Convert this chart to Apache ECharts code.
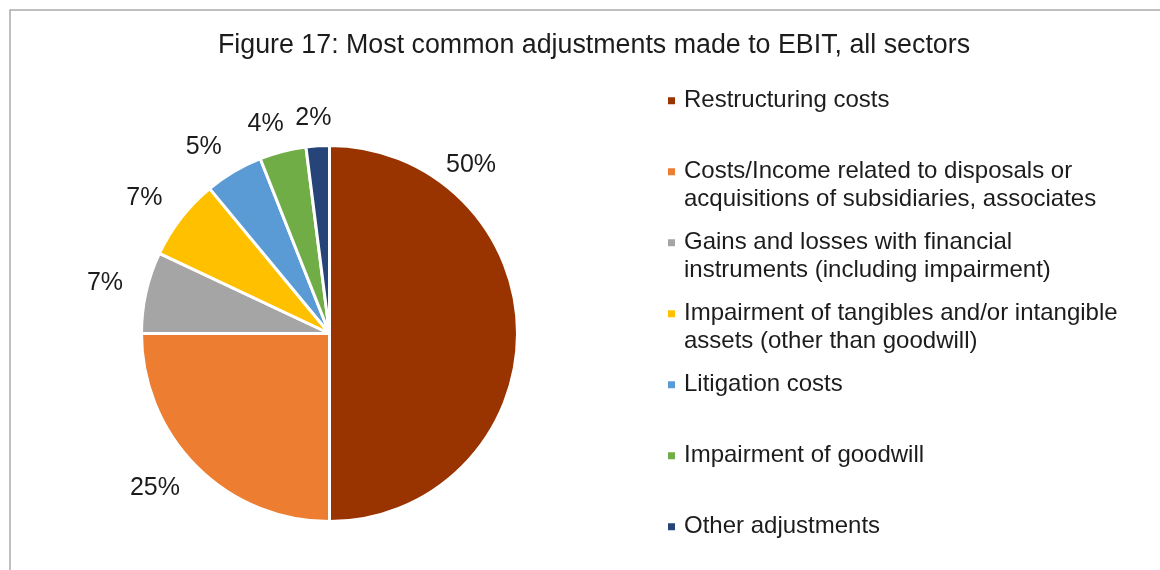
<!DOCTYPE html>
<html>
<head>
<meta charset="utf-8">
<script src="https://cdn.jsdelivr.net/npm/echarts@6/dist/echarts.min.js"></script>
<style>
  html, body { margin: 0; padding: 0; background: #ffffff; }
  #chart { width: 1160px; height: 570px; }
</style>
</head>
<body>
<div id="chart"></div>
<script>
// ---- data ----
const titleText = 'Figure 17: Most common adjustments made to EBIT, all sectors';
const categories = [
  'Restructuring costs',
  'Costs/Income related to disposals or\nacquisitions of subsidiaries, associates',
  'Gains and losses with financial\ninstruments (including impairment)',
  'Impairment of tangibles and/or intangible\nassets (other than goodwill)',
  'Litigation costs',
  'Impairment of goodwill',
  'Other adjustments'
];
const shares = [50, 25, 7, 7, 5, 4, 2];
const colors = ['#993300', '#ED7D31', '#A5A5A5', '#FFC000', '#5B9BD5', '#70AD47', '#264478'];

// ---- layout / style ----
const FONT = '"Liberation Sans", Arial, Helvetica, sans-serif';
const TEXT = '#1c1c1c';
const CX = 329.5, CY = 333.5, R = 188, VIS_R = 186.5;
const GAP_X = 25, GAP_Y = 20, DIGIT_HALF = 9;
const LEGEND_LINE = 27.5;
const total = shares.reduce((a, b) => a + b, 0);
const midFrac = [];
{ let acc = 0; shares.forEach(v => { midFrac.push((acc + v / 2) / total); acc += v; }); }
const labelShift = { 0: [-95, -168.5] };

const chart = echarts.init(document.getElementById('chart'), null, { renderer: 'canvas' });

const legends = categories.map((name, i) => {
  const extra = name.split('\n').length - 1;
  return {
    data: [name],
    orient: 'vertical',
    left: 668,
    top: 87 + 71 * i - extra * LEGEND_LINE,
    padding: 0,
    itemWidth: 7,
    itemHeight: 7,
    icon: 'rect',
    selectedMode: false,
    itemStyle: { borderWidth: 0 },
    textStyle: {
      fontFamily: FONT,
      fontSize: 24,
      color: TEXT,
      lineHeight: LEGEND_LINE,
      padding: [extra * LEGEND_LINE, 0, 0, 4],
      rich: { x: {} }
    }
  };
});

const clamp = v => Math.max(-1, Math.min(1, v));

const option = {
  backgroundColor: '#ffffff',
  animation: false,
  color: colors,
  title: {
    text: titleText,
    left: 594,
    top: 32,
    padding: 0,
    textAlign: 'center',
    textStyle: { fontFamily: FONT, fontSize: 26.8, fontWeight: 'normal', color: TEXT }
  },
  legend: legends,
  graphic: [{
    type: 'rect',
    silent: true,
    z: -10,
    shape: { x: 10, y: 10, width: 1400, height: 800 },
    style: { fill: 'none', stroke: '#ababab', lineWidth: 1.5 }
  }],
  series: [{
    type: 'pie',
    center: [CX, CY],
    radius: R,
    startAngle: 90,
    clockwise: true,
    avoidLabelOverlap: false,
    itemStyle: { borderColor: '#ffffff', borderWidth: 3 },
    emphasis: { disabled: true },
    label: {
      show: true,
      position: 'outside',
      formatter: '{c}%',
      fontFamily: FONT,
      fontSize: 25,
      color: TEXT
    },
    labelLine: { show: false },
    labelLayout: function (params) {
      const i = params.dataIndex;
      const th = midFrac[i] * 2 * Math.PI;
      const ux = Math.sin(th), uy = -Math.cos(th);
      const w = params.labelRect.width;
      let x = CX + (VIS_R + GAP_X) * ux + (w / 2) * clamp(2.5 * ux);
      let y = CY + (VIS_R + GAP_Y) * uy + DIGIT_HALF * clamp(2.5 * uy);
      if (labelShift[i]) { x += labelShift[i][0]; y += labelShift[i][1]; }
      return { x: x, y: y, align: 'center', verticalAlign: 'middle' };
    },
    data: categories.map((name, i) => ({ name: name, value: shares[i] }))
  }]
};

chart.setOption(option);
</script>
</body>
</html>
